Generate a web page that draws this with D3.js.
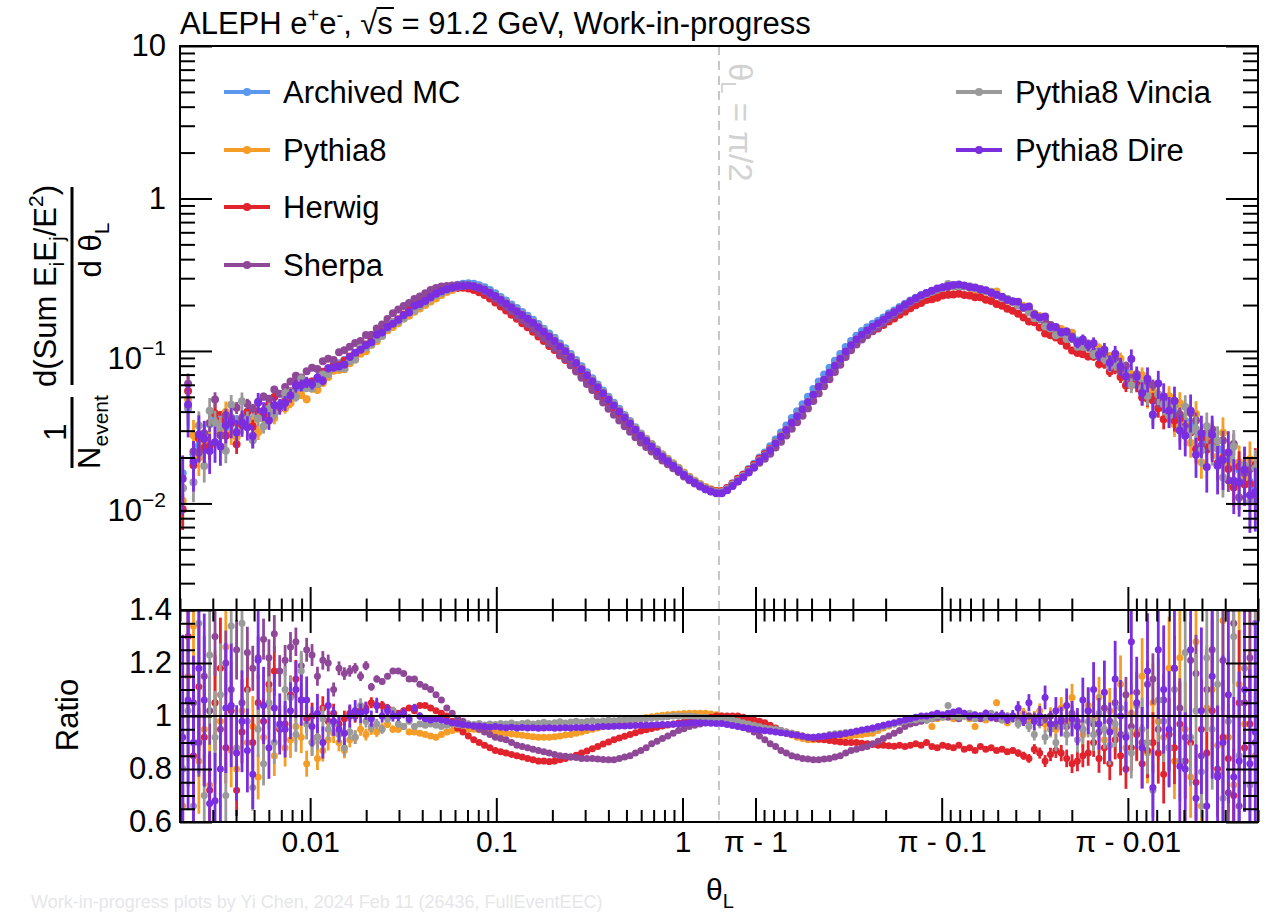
<!DOCTYPE html>
<html>
<head>
<meta charset="utf-8">
<script src="https://cdn.jsdelivr.net/npm/d3@7"></script>
<style>
  body { margin: 0; background: #fff; }
  svg { display: block; }
</style>
</head>
<body>
<div id="chart-area"></div>
<script>
const FONT = "'Liberation Sans', Arial, Helvetica, sans-serif"
const PI = Math.PI

// log binning, 100 bins on each side of pi/2
const THETA_MIN = 0.002
const N_BINS = 100

const SERIES = ["Archived MC", "Pythia8", "Herwig", "Sherpa", "Pythia8 Vincia", "Pythia8 Dire"]
const COLORS = ["#5b97ee", "#f59d26", "#e1232e", "#8f4898", "#9a9a9a", "#7a2ee0"]
const ERR_SCALE = [0.8, 1.0, 0.9, 0.6, 1.0, 1.4]

const X_MAJOR_LEFT = [0.01, 0.1, 1]
const X_LABELS_LEFT = ["0.01", "0.1", "1"]
const X_MAJOR_RIGHT = [1, 0.1, 0.01]          // distance from pi
const X_LABELS_RIGHT = ["π - 1", "π - 0.1", "π - 0.01"]
const Y_MAJOR_TOP = [0.01, 0.1, 1, 10]
const Y_MAJOR_RATIO = [0.6, 0.8, 1, 1.2, 1.4]

// Archived MC, 1/N dSum/dtheta (left half then right half)
const archivedMC = [
  0.0158, 0.042, 0.0209, 0.024, 0.0251, 0.033, 0.037, 0.0295, 0.0316, 0.0331,
  0.0339, 0.0347, 0.0363, 0.0355, 0.038, 0.0389, 0.0398, 0.0427, 0.0447, 0.0479,
  0.0501, 0.0537, 0.0562, 0.0589, 0.0631, 0.0661, 0.0708, 0.0741, 0.0794, 0.0832,
  0.0871, 0.0912, 0.0955, 0.101, 0.107, 0.115, 0.123, 0.132, 0.141, 0.151,
  0.160, 0.170, 0.181, 0.192, 0.203, 0.215, 0.228, 0.240, 0.250, 0.259,
  0.266, 0.272, 0.276, 0.278, 0.276, 0.270, 0.262, 0.251, 0.239, 0.226,
  0.214, 0.202, 0.191, 0.180, 0.170, 0.160, 0.150, 0.140, 0.130, 0.122,
  0.112, 0.104, 0.0955, 0.0871, 0.0794, 0.0724, 0.0661, 0.0603, 0.0550, 0.0501,
  0.0457, 0.0417, 0.0380, 0.0347, 0.0316, 0.0288, 0.0266, 0.0245, 0.0226, 0.0209,
  0.0195, 0.0182, 0.0170, 0.0158, 0.0148, 0.0140, 0.0133, 0.0127, 0.0123, 0.0120,
  0.0120, 0.0126, 0.0135, 0.0145, 0.0155, 0.0168, 0.0182, 0.0200, 0.0216, 0.0237,
  0.0263, 0.0292, 0.0324, 0.0363, 0.0403, 0.0447, 0.0501, 0.0562, 0.0631, 0.0700,
  0.0776, 0.0861, 0.0955, 0.106, 0.116, 0.126, 0.135, 0.143, 0.151, 0.158,
  0.166, 0.176, 0.184, 0.194, 0.204, 0.214, 0.223, 0.232, 0.240, 0.247,
  0.254, 0.260, 0.264, 0.267, 0.267, 0.266, 0.263, 0.259, 0.254, 0.248,
  0.242, 0.234, 0.226, 0.219, 0.211, 0.204, 0.195, 0.186, 0.176, 0.166,
  0.157, 0.148, 0.141, 0.135, 0.129, 0.123, 0.117, 0.112, 0.107, 0.102,
  0.0977, 0.0933, 0.0891, 0.0841, 0.0794, 0.0741, 0.0692, 0.0646, 0.0603, 0.0562,
  0.0525, 0.0490, 0.0457, 0.0427, 0.0398, 0.0372, 0.0347, 0.0324, 0.0302, 0.0282,
  0.0263, 0.0245, 0.0229, 0.0214, 0.0200, 0.0182, 0.0166, 0.0151, 0.0138, 0.0126
]

// relative statistical error per bin
const relErr = [
  0.30, 0.28, 0.26, 0.24, 0.22, 0.21, 0.19, 0.18, 0.17, 0.16,
  0.15, 0.14, 0.13, 0.12, 0.11, 0.10, 0.095, 0.09, 0.085, 0.08,
  0.075, 0.07, 0.065, 0.06, 0.056, 0.052, 0.048, 0.044, 0.04, 0.037,
  0.034, 0.031, 0.028, 0.026, 0.024, 0.022, 0.02, 0.018, 0.016, 0.015,
  0.014, 0.013, 0.012, 0.011, 0.010, 0.009, 0.0085, 0.008, 0.0075, 0.007,
  0.0065, 0.006, 0.006, 0.0055, 0.0055, 0.005, 0.005, 0.005, 0.005, 0.005,
  0.005, 0.005, 0.005, 0.005, 0.005, 0.005, 0.005, 0.005, 0.005, 0.005,
  0.005, 0.005, 0.005, 0.005, 0.005, 0.005, 0.005, 0.005, 0.005, 0.005,
  0.005, 0.005, 0.005, 0.005, 0.005, 0.005, 0.005, 0.005, 0.005, 0.005,
  0.005, 0.005, 0.005, 0.005, 0.005, 0.005, 0.005, 0.005, 0.005, 0.005,
  0.005, 0.005, 0.005, 0.005, 0.005, 0.005, 0.005, 0.005, 0.005, 0.005,
  0.005, 0.005, 0.005, 0.005, 0.005, 0.005, 0.005, 0.005, 0.005, 0.005,
  0.005, 0.005, 0.005, 0.005, 0.005, 0.005, 0.005, 0.005, 0.005, 0.005,
  0.005, 0.005, 0.005, 0.005, 0.005, 0.005, 0.005, 0.005, 0.005, 0.005,
  0.005, 0.005, 0.006, 0.006, 0.007, 0.007, 0.008, 0.008, 0.009, 0.01,
  0.011, 0.012, 0.013, 0.014, 0.016, 0.018, 0.02, 0.022, 0.024, 0.027,
  0.03, 0.033, 0.036, 0.04, 0.044, 0.048, 0.052, 0.057, 0.062, 0.067,
  0.072, 0.078, 0.084, 0.09, 0.097, 0.104, 0.111, 0.118, 0.125, 0.133,
  0.141, 0.149, 0.157, 0.165, 0.173, 0.182, 0.191, 0.2, 0.21, 0.22,
  0.23, 0.24, 0.25, 0.26, 0.27, 0.28, 0.29, 0.3, 0.31, 0.32
]

// ratios to Archived MC
const ratioPythia8 = [
  0.66, 1.15, 1.34, 0.83, 0.95, 0.74, 1.05, 0.98, 1.26, 0.87,
  0.80, 1.02, 0.90, 0.96, 0.77, 0.92, 1.10, 0.85, 0.95, 0.88,
  0.91, 0.96, 0.92, 0.82, 0.90, 0.84, 0.87, 0.91, 0.935, 0.90,
  0.87, 0.91, 0.92, 0.95, 0.93, 0.95, 0.94, 0.955, 0.97, 0.95,
  0.95, 0.96, 0.94, 0.94, 0.935, 0.93, 0.925, 0.92, 0.93, 0.94,
  0.945, 0.95, 0.95, 0.95, 0.95, 0.948, 0.945, 0.942, 0.94, 0.937,
  0.935, 0.932, 0.93, 0.927, 0.925, 0.922, 0.92, 0.92, 0.92, 0.922,
  0.925, 0.928, 0.93, 0.935, 0.94, 0.945, 0.95, 0.955, 0.96, 0.965,
  0.97, 0.974, 0.978, 0.982, 0.986, 0.99, 0.994, 0.997, 1.0, 1.003,
  1.005, 1.007, 1.008, 1.009, 1.01, 1.01, 1.01, 1.01, 1.008, 1.005,
  1.0, 0.995, 0.99, 0.985, 0.98, 0.975, 0.97, 0.965, 0.96, 0.955,
  0.95, 0.943, 0.935, 0.928, 0.92, 0.915, 0.91, 0.91, 0.912, 0.915,
  0.917, 0.92, 0.92, 0.922, 0.925, 0.928, 0.93, 0.933, 0.935, 0.945,
  0.955, 0.962, 0.97, 0.975, 0.978, 0.98, 0.983, 0.985, 0.985, 0.96,
  0.99, 0.995, 1.0, 0.99, 0.995, 1.0, 0.99, 0.96, 1.0, 0.985,
  1.0, 1.05, 0.99, 0.975, 1.0, 0.99, 1.01, 0.98, 0.995, 1.02,
  0.97, 1.0, 0.95, 1.03, 0.98, 1.07, 0.96, 0.93, 1.04, 0.99,
  1.07, 0.91, 1.02, 0.95, 1.12, 0.88, 1.01, 0.94, 1.15, 0.86,
  1.05, 0.98, 0.92, 1.18, 0.83, 1.22, 0.95, 0.77, 1.28, 0.66,
  1.03, 1.10, 0.89, 1.36, 0.92, 0.74, 1.12, 0.97, 1.41, 0.85
]

const ratioHerwig = [
  0.58, 1.30, 0.85, 1.11, 0.92, 0.72, 1.05, 1.18, 0.88, 1.02,
  0.72, 0.94, 1.10, 0.90, 1.05, 0.98, 1.12, 1.17, 0.95, 0.97,
  1.08, 1.14, 1.06, 0.99, 1.00, 0.92, 1.03, 0.98, 1.01, 0.97,
  0.99, 1.01, 1.00, 1.02, 1.03, 1.05, 1.04, 1.04, 1.03, 1.02,
  1.01, 1.02, 1.03, 1.02, 1.04, 1.04, 1.03, 1.02, 1.01, 1.00,
  0.98, 0.955, 0.94, 0.925, 0.91, 0.90, 0.89, 0.88, 0.87, 0.865,
  0.86, 0.855, 0.85, 0.845, 0.84, 0.835, 0.83, 0.83, 0.828, 0.83,
  0.835, 0.84, 0.845, 0.852, 0.86, 0.868, 0.876, 0.885, 0.894, 0.902,
  0.91, 0.917, 0.924, 0.93, 0.937, 0.943, 0.948, 0.953, 0.958, 0.962,
  0.966, 0.97, 0.974, 0.977, 0.98, 0.984, 0.987, 0.99, 0.995, 1.0,
  1.0, 1.0, 1.0, 1.0, 0.995, 0.99, 0.985, 0.98, 0.975, 0.965,
  0.955, 0.945, 0.94, 0.935, 0.93, 0.925, 0.92, 0.915, 0.912, 0.91,
  0.908, 0.905, 0.902, 0.90, 0.90, 0.90, 0.897, 0.895, 0.892, 0.89,
  0.89, 0.888, 0.886, 0.89, 0.885, 0.89, 0.895, 0.89, 0.90, 0.885,
  0.88, 0.89, 0.885, 0.88, 0.89, 0.875, 0.88, 0.87, 0.885, 0.875,
  0.88, 0.87, 0.875, 0.865, 0.87, 0.86, 0.85, 0.84, 0.875, 0.86,
  0.83, 0.855, 0.87, 0.86, 0.84, 0.82, 0.83, 0.85, 0.86, 0.90,
  0.84, 0.88, 0.82, 0.91, 0.85, 0.80, 0.88, 0.93, 0.82, 0.87,
  0.90, 0.86, 0.78, 0.93, 0.88, 0.97, 0.83, 0.90, 0.75, 0.95,
  0.86, 1.02, 0.80, 0.92, 0.84, 0.70, 1.05, 0.88, 0.97, 1.42
]

const ratioSherpa = [
  0.80, 1.45, 1.05, 0.90, 1.15, 1.02, 1.30, 0.95, 1.20, 1.10,
  1.25, 1.05, 1.24, 1.18, 1.22, 1.29, 1.22, 1.31, 1.17, 1.21,
  1.26, 1.28, 1.19, 1.25, 1.23, 1.15, 1.21, 1.20, 1.10, 1.18,
  1.16, 1.17, 1.18, 1.15, 1.19, 1.11, 1.14, 1.13, 1.15, 1.17,
  1.17, 1.16, 1.14, 1.14, 1.12, 1.11, 1.10, 1.08, 1.06, 1.03,
  1.01, 0.99, 0.98, 0.97, 0.96, 0.95, 0.94, 0.93, 0.92, 0.915,
  0.91, 0.90, 0.89, 0.885, 0.88, 0.875, 0.87, 0.865, 0.86, 0.855,
  0.85, 0.848, 0.845, 0.843, 0.84, 0.84, 0.84, 0.838, 0.836, 0.835,
  0.835, 0.84, 0.845, 0.85, 0.86, 0.87, 0.88, 0.895, 0.905, 0.915,
  0.925, 0.935, 0.945, 0.952, 0.96, 0.965, 0.97, 0.975, 0.978, 0.98,
  0.975, 0.972, 0.968, 0.963, 0.957, 0.95, 0.94, 0.925, 0.91, 0.895,
  0.885, 0.87, 0.86, 0.85, 0.845, 0.84, 0.838, 0.835, 0.835, 0.838,
  0.84, 0.845, 0.85, 0.86, 0.87, 0.875, 0.88, 0.885, 0.895, 0.905,
  0.915, 0.925, 0.935, 0.945, 0.96, 0.97, 0.975, 0.98, 0.985, 0.99,
  0.995, 1.0, 0.995, 1.0, 0.99, 1.0, 0.995, 1.0, 0.99, 1.0,
  0.995, 0.99, 1.0, 0.985, 1.0, 0.99, 0.98, 1.0, 0.99, 0.975,
  0.99, 1.0, 0.97, 0.99, 0.96, 1.01, 0.98, 0.95, 1.02, 0.97,
  0.94, 1.03, 0.98, 1.05, 0.93, 1.08, 0.96, 1.09, 0.90, 1.12,
  1.14, 0.95, 1.06, 0.88, 1.18, 1.03, 0.92, 1.21, 1.16, 0.85,
  1.10, 1.25, 0.78, 1.21, 0.71, 1.35, 0.66, 1.05, 1.22, 0.90
]

const ratioVincia = [
  0.80, 1.02, 0.66, 1.35, 0.70, 1.23, 0.92, 1.08, 0.70, 1.34,
  0.88, 1.35, 0.98, 0.73, 0.95, 0.82, 1.05, 0.90, 0.96, 1.10,
  1.07, 0.93, 1.17, 0.97, 0.90, 0.92, 0.99, 0.95, 0.97, 0.93,
  0.88, 0.94, 0.92, 1.04, 0.98, 0.96, 0.97, 0.95, 0.99, 1.02,
  0.97, 0.96, 0.98, 0.96, 0.97, 0.965, 0.97, 0.965, 0.96, 0.965,
  0.97, 0.968, 0.965, 0.97, 0.968, 0.972, 0.966, 0.97, 0.968, 0.972,
  0.97, 0.974, 0.968, 0.972, 0.975, 0.97, 0.973, 0.976, 0.972, 0.975,
  0.978, 0.974, 0.977, 0.98, 0.976, 0.979, 0.982, 0.978, 0.981, 0.984,
  0.982, 0.985, 0.987, 0.985, 0.988, 0.99, 0.99, 0.992, 0.994, 0.995,
  0.997, 1.0, 1.0, 1.0, 1.0, 0.998, 0.995, 0.995, 0.99, 0.99,
  0.99, 0.988, 0.985, 0.98, 0.975, 0.97, 0.965, 0.96, 0.955, 0.952,
  0.95, 0.945, 0.94, 0.935, 0.93, 0.925, 0.92, 0.92, 0.922, 0.925,
  0.93, 0.933, 0.935, 0.938, 0.94, 0.943, 0.946, 0.948, 0.95, 0.955,
  0.96, 0.965, 0.97, 0.975, 0.98, 0.985, 0.985, 0.99, 0.985, 0.99,
  1.0, 0.995, 1.04, 1.0, 0.995, 1.0, 1.01, 0.99, 1.0, 0.995,
  1.01, 1.0, 0.985, 1.0, 0.99, 0.97, 0.99, 0.96, 0.93, 0.98,
  0.92, 0.95, 0.90, 0.96, 0.93, 0.97, 0.91, 0.95, 0.98, 0.93,
  1.01, 0.95, 0.89, 0.97, 1.03, 0.93, 0.86, 1.04, 0.95, 0.90,
  0.72, 1.06, 0.98, 0.88, 1.10, 0.83, 1.24, 0.92, 1.02, 0.79,
  1.22, 0.95, 1.12, 0.69, 0.98, 1.30, 0.85, 1.18, 0.74, 1.35
]

const ratioDire = [
  0.92, 1.06, 0.90, 1.18, 1.06, 0.67, 0.68, 0.80, 1.03, 1.04,
  0.86, 0.98, 0.87, 0.78, 1.21, 1.04, 0.88, 1.03, 0.97, 0.95,
  1.02, 1.10, 1.06, 1.06, 0.96, 1.01, 0.90, 1.04, 0.98, 0.95,
  0.935, 1.0, 1.02, 1.01, 1.02, 0.99, 1.04, 1.0, 1.02, 1.0,
  1.0, 1.01, 0.99, 1.03, 1.0, 0.99, 0.985, 0.99, 0.985, 0.98,
  0.975, 0.972, 0.968, 0.965, 0.963, 0.962, 0.96, 0.958, 0.96, 0.958,
  0.956, 0.958, 0.955, 0.957, 0.955, 0.956, 0.954, 0.955, 0.956, 0.954,
  0.955, 0.956, 0.955, 0.957, 0.956, 0.958, 0.957, 0.959, 0.96, 0.96,
  0.961, 0.962, 0.962, 0.963, 0.964, 0.965, 0.965, 0.966, 0.967, 0.968,
  0.968, 0.969, 0.97, 0.972, 0.974, 0.975, 0.975, 0.974, 0.973, 0.972,
  0.972, 0.968, 0.964, 0.96, 0.957, 0.954, 0.95, 0.947, 0.944, 0.942,
  0.94, 0.937, 0.934, 0.93, 0.927, 0.924, 0.92, 0.92, 0.922, 0.924,
  0.926, 0.928, 0.93, 0.934, 0.938, 0.942, 0.947, 0.951, 0.955, 0.96,
  0.965, 0.97, 0.975, 0.98, 0.985, 0.99, 0.995, 1.0, 1.0, 1.005,
  1.01, 1.005, 1.01, 1.015, 1.02, 1.01, 1.0, 1.005, 1.0, 1.01,
  0.995, 1.0, 1.005, 0.99, 1.0, 1.03, 0.99, 1.05, 0.98, 1.0,
  1.07, 0.97, 1.02, 0.98, 1.04, 0.99, 0.96, 1.06, 1.02, 1.10,
  0.97, 1.09, 0.94, 1.14, 1.0, 0.92, 1.28, 1.05, 0.88, 1.17,
  0.73, 1.25, 1.10, 0.95, 1.18, 0.81, 0.80, 1.25, 0.69, 1.02,
  0.66, 1.15, 0.77, 0.90, 1.08, 0.77, 0.83, 1.10, 0.82, 0.94
]

const RATIOS = [null, ratioPythia8, ratioHerwig, ratioSherpa, ratioVincia, ratioDire]

// ---- geometry
const LEFT = 180, RIGHT = 1258, TOP = 46, MID = 610, BOTTOM = 822

const svg = d3.select("#chart-area").append("svg")
  .attr("width", 1268)
  .attr("height", 913)
  .attr("font-family", FONT)

// two log scales: theta on the left, (pi - theta) on the right
const xLeft = d3.scaleLog().domain([THETA_MIN, PI / 2]).range([LEFT, 719])
const xRight = d3.scaleLog().domain([PI / 2, THETA_MIN]).range([719, RIGHT])
const xPos = t => t <= PI / 2 ? xLeft(t) : xRight(PI - t)

const yTop = d3.scaleLog().domain([THETA_MIN, 10]).range([MID, TOP])
const yRatio = d3.scaleLinear().domain([0.6, 1.4]).range([BOTTOM, MID])

const lnMin = Math.log(THETA_MIN), lnHalf = Math.log(PI / 2)
const theta = d3.range(2 * N_BINS).map(k => k < N_BINS
  ? Math.exp(lnMin + (k + 0.5) / N_BINS * (lnHalf - lnMin))
  : PI - Math.exp(lnHalf + (k - N_BINS + 0.5) / N_BINS * (lnMin - lnHalf)))

const series = SERIES.map((name, s) => ({
  name,
  color: COLORS[s],
  points: theta.map((t, k) => {
    const r = s === 0 ? 1 : RATIOS[s][k]
    return {t, r, v: archivedMC[k] * r, e: relErr[k] * ERR_SCALE[s]}
  })
}))

const defs = svg.append("defs")
defs.append("clipPath").attr("id", "clipTop").append("rect")
  .attr("x", LEFT).attr("y", TOP).attr("width", RIGHT - LEFT).attr("height", MID - TOP)
defs.append("clipPath").attr("id", "clipRatio").append("rect")
  .attr("x", LEFT).attr("y", MID).attr("width", RIGHT - LEFT).attr("height", BOTTOM - MID)

// dashed line at theta = pi/2
svg.append("line")
  .attr("x1", xLeft(PI / 2)).attr("x2", xLeft(PI / 2))
  .attr("y1", TOP).attr("y2", BOTTOM)
  .attr("stroke", "#c8c8c8").attr("stroke-width", 2).attr("stroke-dasharray", "9,6")

const piLabel = svg.append("text")
  .attr("transform", `translate(729, 63) rotate(90)`)
  .attr("font-size", 33).attr("fill", "#d2d2d2")
piLabel.append("tspan").text("θ")
piLabel.append("tspan").attr("font-size", 22).attr("dy", 8).text("L")
piLabel.append("tspan").attr("dy", -8).text(" = π/2")

// ---- top panel points
const gTop = svg.append("g").attr("clip-path", "url(#clipTop)")
series.forEach(s => {
  const g = gTop.append("g")
  g.selectAll("line").data(s.points).enter().append("line")
    .attr("x1", d => xPos(d.t)).attr("x2", d => xPos(d.t))
    .attr("y1", d => yTop(Math.max(d.v * (1 - d.e), 1e-4)))
    .attr("y2", d => yTop(d.v * (1 + d.e)))
    .attr("stroke", s.color).attr("stroke-width", 2.8)
  g.selectAll("circle").data(s.points).enter().append("circle")
    .attr("cx", d => xPos(d.t))
    .attr("cy", d => yTop(d.v))
    .attr("r", 4)
    .attr("fill", s.color)
})

// ---- ratio panel points
const gRatio = svg.append("g").attr("clip-path", "url(#clipRatio)")
series.slice(1).forEach(s => {
  const g = gRatio.append("g")
  g.selectAll("line").data(s.points).enter().append("line")
    .attr("x1", d => xPos(d.t)).attr("x2", d => xPos(d.t))
    .attr("y1", d => yRatio(d.r * (1 - d.e)))
    .attr("y2", d => yRatio(d.r * (1 + d.e)))
    .attr("stroke", s.color).attr("stroke-width", 2.8)
  g.selectAll("circle").data(s.points).enter().append("circle")
    .attr("cx", d => xPos(d.t))
    .attr("cy", d => yRatio(d.r))
    .attr("r", 3.5)
    .attr("fill", s.color)
})

svg.append("line")
  .attr("x1", LEFT).attr("x2", RIGHT)
  .attr("y1", yRatio(1)).attr("y2", yRatio(1))
  .attr("stroke", "#000").attr("stroke-width", 2)

// ---- axes
const minors = (lo, hi) => {
  const out = []
  ;[0.001, 0.01, 0.1, 1].forEach(dec => {
    for (let m = 2; m <= 9; m++) {
      const v = m * dec
      if (v >= lo * 0.999 && v <= hi) out.push(v)
    }
  })
  return out
}
const xMinor = minors(THETA_MIN, PI / 2)
const yMinorTop = minors(THETA_MIN, 10)
const yMinorRatio = d3.range(0.65, 1.4, 0.05).filter(v => Math.abs(v * 5 - Math.round(v * 5)) > 1e-6)

function drawAxis(axis, tx, ty, fontSize) {
  const g = svg.append("g")
    .attr("transform", `translate(${tx}, ${ty})`)
    .call(axis)
  g.attr("font-family", FONT).attr("font-size", fontSize || 30)
  g.select(".domain").remove()
  g.selectAll(".tick line").attr("stroke", "#000").attr("stroke-width", 2)
  g.selectAll(".tick text").attr("fill", "#000")
  return g
}

// x axes on the shared line and at the bottom
const xAxes = [
  {y: MID, gen: d3.axisBottom, size: -23, labels: false},
  {y: MID, gen: d3.axisTop, size: -23, labels: false},
  {y: BOTTOM, gen: d3.axisBottom, size: -24, labels: true}
]
xAxes.forEach(a => {
  drawAxis(a.gen(xLeft).tickValues(X_MAJOR_LEFT).tickSizeInner(a.size).tickSizeOuter(0).tickPadding(9)
    .tickFormat((d, i) => a.labels ? X_LABELS_LEFT[i] : ""), 0, a.y)
  drawAxis(a.gen(xLeft).tickValues(xMinor).tickSizeInner(a.size / 2).tickSizeOuter(0).tickFormat(""), 0, a.y)
  drawAxis(a.gen(xRight).tickValues(X_MAJOR_RIGHT).tickSizeInner(a.size).tickSizeOuter(0).tickPadding(9)
    .tickFormat((d, i) => a.labels ? X_LABELS_RIGHT[i] : ""), 0, a.y)
  drawAxis(a.gen(xRight).tickValues(xMinor).tickSizeInner(a.size / 2).tickSizeOuter(0).tickFormat(""), 0, a.y)
})

// top panel y axes
const yTopAxis = drawAxis(d3.axisLeft(yTop).tickValues(Y_MAJOR_TOP).tickSizeInner(-32).tickSizeOuter(0)
  .tickPadding(14).tickFormat(""), LEFT, 0, 31)
yTopAxis.selectAll(".tick text").each(function (d) {
  const t = d3.select(this)
  const e = Math.round(Math.log10(d))
  if (e >= 0) { t.text(String(d)); return }
  t.attr("dy", "0.55em")
  t.append("tspan").text("10")
  t.append("tspan").attr("font-size", 21).attr("dy", -14).text("−" + (-e))
})
drawAxis(d3.axisLeft(yTop).tickValues(yMinorTop).tickSizeInner(-15).tickSizeOuter(0).tickFormat(""), LEFT, 0)
drawAxis(d3.axisRight(yTop).tickValues(Y_MAJOR_TOP).tickSizeInner(-32).tickSizeOuter(0).tickFormat(""), RIGHT, 0)
drawAxis(d3.axisRight(yTop).tickValues(yMinorTop).tickSizeInner(-15).tickSizeOuter(0).tickFormat(""), RIGHT, 0)

// ratio panel y axes
drawAxis(d3.axisLeft(yRatio).tickValues(Y_MAJOR_RATIO).tickSizeInner(-32).tickSizeOuter(0)
  .tickPadding(8).tickFormat(d => String(d)), LEFT, 0, 31)
drawAxis(d3.axisLeft(yRatio).tickValues(yMinorRatio).tickSizeInner(-15).tickSizeOuter(0).tickFormat(""), LEFT, 0)
drawAxis(d3.axisRight(yRatio).tickValues(Y_MAJOR_RATIO).tickSizeInner(-32).tickSizeOuter(0).tickFormat(""), RIGHT, 0)
drawAxis(d3.axisRight(yRatio).tickValues(yMinorRatio).tickSizeInner(-15).tickSizeOuter(0).tickFormat(""), RIGHT, 0)

// frames
svg.append("rect").attr("x", LEFT).attr("y", TOP).attr("width", RIGHT - LEFT).attr("height", MID - TOP)
  .attr("fill", "none").attr("stroke", "#000").attr("stroke-width", 2)
svg.append("rect").attr("x", LEFT).attr("y", MID).attr("width", RIGHT - LEFT).attr("height", BOTTOM - MID)
  .attr("fill", "none").attr("stroke", "#000").attr("stroke-width", 2)

// ---- legend
const legendRows = [
  {s: 0, x: 224, y: 92}, {s: 1, x: 224, y: 150}, {s: 2, x: 224, y: 207}, {s: 3, x: 224, y: 265},
  {s: 4, x: 956, y: 92}, {s: 5, x: 956, y: 150}
]
const legend = svg.append("g")
legendRows.forEach(row => {
  const c = COLORS[row.s]
  legend.append("line").attr("x1", row.x).attr("x2", row.x + 46)
    .attr("y1", row.y).attr("y2", row.y).attr("stroke", c).attr("stroke-width", 4)
  legend.append("circle").attr("cx", row.x + 23).attr("cy", row.y).attr("r", 4).attr("fill", c)
  legend.append("text").attr("x", row.x + 59).attr("y", row.y + 11)
    .attr("font-size", 31).text(SERIES[row.s])
})

// ---- titles
const title = svg.append("text").attr("x", 180).attr("y", 34).attr("font-size", 31)
title.append("tspan").text("ALEPH e")
title.append("tspan").attr("font-size", 20).attr("dy", -12).text("+")
title.append("tspan").attr("dy", 12).text("e")
title.append("tspan").attr("font-size", 20).attr("dy", -12).text("-")
title.append("tspan").attr("dy", 12).text(", √s = 91.2 GeV, Work-in-progress")
const tNode = title.node()
const sIdx = tNode.textContent.indexOf("√s") + 1
const rad = tNode.getExtentOfChar(sIdx - 1)
const sEnd = tNode.getEndPositionOfChar(sIdx)
svg.append("line").attr("x1", rad.x + rad.width - 1).attr("x2", sEnd.x + 1)
  .attr("y1", rad.y + 2).attr("y2", rad.y + 2).attr("stroke", "#000").attr("stroke-width", 2)

// y title: 1/N_event  d(Sum E_i E_j / E^2) / d theta_L
const yt = svg.append("g").attr("font-size", 31)
yt.append("text").attr("transform", "translate(66, 432) rotate(-90)").attr("text-anchor", "middle").text("1")
yt.append("line").attr("x1", 72).attr("x2", 72).attr("y1", 397).attr("y2", 468)
  .attr("stroke", "#000").attr("stroke-width", 3)
const nev = yt.append("text").attr("transform", "translate(100, 432) rotate(-90)").attr("text-anchor", "middle")
nev.append("tspan").text("N")
nev.append("tspan").attr("font-size", 21).attr("dy", 8).text("event")

const num = yt.append("text").attr("transform", "translate(56, 286) rotate(-90)").attr("text-anchor", "middle")
num.append("tspan").text("d(Sum E")
num.append("tspan").attr("font-size", 21).attr("dy", 8).text("i")
num.append("tspan").attr("dy", -8).text("E")
num.append("tspan").attr("font-size", 21).attr("dy", 8).text("j")
num.append("tspan").attr("dy", -8).text("/E")
num.append("tspan").attr("font-size", 21).attr("dy", -13).text("2")
num.append("tspan").attr("dy", 13).text(")")
yt.append("line").attr("x1", 72).attr("x2", 72).attr("y1", 187).attr("y2", 385)
  .attr("stroke", "#000").attr("stroke-width", 3)
const den = yt.append("text").attr("transform", "translate(101, 250) rotate(-90)").attr("text-anchor", "middle")
den.append("tspan").text("d θ")
den.append("tspan").attr("font-size", 21).attr("dy", 8).text("L")

svg.append("text").attr("transform", "translate(78, 715) rotate(-90)").attr("text-anchor", "middle")
  .attr("font-size", 31).text("Ratio")

const xt = svg.append("text").attr("x", 706).attr("y", 900).attr("font-size", 30)
xt.append("tspan").text("θ")
xt.append("tspan").attr("font-size", 20).attr("dy", 8).text("L")

svg.append("text").attr("x", 31).attr("y", 908).attr("font-size", 18).attr("fill", "#e6e6ea")
  .text("Work-in-progress plots by Yi Chen, 2024 Feb 11 (26436, FullEventEEC)")
</script>
</body>
</html>
